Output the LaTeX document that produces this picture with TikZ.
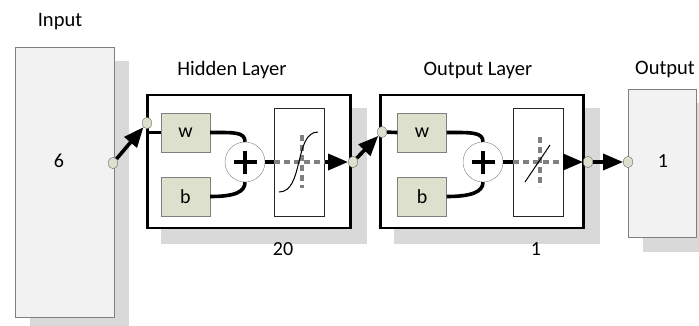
\documentclass[tikz,border=0pt]{standalone}
\usepackage{fontspec}
\setmainfont{Carlito}
\usepackage{tikz}
\usetikzlibrary{positioning,arrows.meta,shapes.geometric,backgrounds}
\definecolor{shade}{RGB}{217,217,217}
\definecolor{paper}{RGB}{242,242,242}
\definecolor{edge}{RGB}{128,128,128}
\definecolor{paramfill}{RGB}{221,224,205}

\begin{document}
\begin{tikzpicture}[x=1pt,y=-1pt,
    io/.style={draw=edge,fill=paper,inner sep=0pt},
    layer/.style={draw=black,line width=2.6pt,fill=white,minimum width=203pt,
                  minimum height=133pt,inner sep=0pt},
    backdrop/.style={fill=shade},
    param/.style={draw=edge,fill=paramfill,minimum width=49pt,minimum height=39pt,
                  inner sep=0pt,font=\fontsize{20}{20}\selectfont},
    sum/.style={circle,draw=edge,fill=white,minimum size=40pt,inner sep=0pt},
    xfer/.style={draw=black!85,line width=1pt,fill=white,minimum width=50pt,
                 minimum height=108pt,inner sep=0pt},
    port/.style={ellipse,draw=black!60,fill=paramfill,minimum width=9.5pt,
                 minimum height=11.5pt,inner sep=0pt},
    wire/.style={line width=3.6pt},
    arr/.style={line width=3.6pt,-{Triangle[length=20pt,width=16pt]}},
    zero/.style={edge,line width=3.6pt,dash pattern=on 6pt off 4pt},
    lbl/.style={font=\fontsize{20.5}{20.5}\selectfont},
    num/.style={font=\fontsize{20}{20}\selectfont}
]
\useasboundingbox (0,0) rectangle (699,325);

% boxes
\node[io,minimum width=99pt,minimum height=270pt] (in) at (64.5,182) {};
\node[layer] (hid) at (249,161.5) {};
\node[layer] (ol)  at (482,161.5) {};
\node[io,minimum width=68pt,minimum height=148pt] (out) at (662,163) {};

\begin{scope}[on background layer]
  \foreach \b in {in,hid,ol,out}
    \fill[backdrop] ([shift={(15,14.5)}]\b.south west) rectangle ([shift={(15,14.5)}]\b.north east);
\end{scope}

% texts
\node[lbl] (inlbl)  at (60,22)  {Input};
\node[lbl] (hidlbl) at (232,70) {Hidden Layer};
\node[lbl] (ollbl)  at (478,70) {Output Layer};
\node[lbl] (outlbl) at (665,69) {Output};
\node[num] (insize)  at (59,161)  {6};
\node[num] (hidsize) at (283,249) {20};
\node[num] (olsize)  at (536,249) {1};
\node[num] (outsize) at (663,161) {1};

% hidden layer
\node[param] (hw) at (185.5,132.5) {w};
\node[param] (hb) at (185.5,196.5) {b};
\node[sum]   (hsum) at (245,162) {};
\node[xfer]  (hx) at (299,162) {};

% output layer
\node[param] (ow) at (422,132.5) {w};
\node[param] (ob) at (422,196.5) {b};
\node[sum]   (osum) at (483,162) {};
\node[xfer]  (ox) at (538,162) {};

% ports
\node[port] (inport) at (113,163) {};
\node[port] (hin)  at (147,123) {};
\node[port] (hout) at (353,162) {};
\node[port] (oin)  at (382,132) {};
\node[port] (oout) at (588,162) {};
\node[port] (outport) at (628,162) {};

% plus signs
\foreach \s in {hsum,osum} {
  \draw[line width=4.5pt] ([xshift=-11.5pt]\s.center) -- ([xshift=11.5pt]\s.center);
  \draw[line width=4.5pt] ([yshift=-11.5pt]\s.center) -- ([yshift=11.5pt]\s.center);
}

% transfer functions
\draw[zero] (hx.west) -- (hx.east);
\draw[zero] ([shift={(3,-27)}]hx.center) -- ([shift={(3,26)}]hx.center);
\draw[line width=1pt] ([shift={(-20,30)}]hx.center) .. controls ([shift={(5,30)}]hx.center)
      and ([shift={(-5,-30)}]hx.center) .. ([shift={(19,-30)}]hx.center);
\draw[zero] (ox.west) -- (ox.east);
\draw[zero] ([shift={(2,-25)}]ox.center) -- ([shift={(2,25)}]ox.center);
\draw[line width=1pt] ([shift={(-13,20)}]ox.center) -- ([shift={(12,-17)}]ox.center);

% wires
\draw[wire] (hid.west |- hw.west) -- (hw.west);
\draw[wire] (hw.east) .. controls +(24,0) and +(0,-10) .. (hsum.north);
\draw[wire] (hb.east) .. controls +(24,0) and +(0,10) .. (hsum.south);
\draw[wire] (hsum.east) -- (hx.west);
\draw[wire] (oin) -- (ow.west);
\draw[wire] (ow.east) .. controls +(24,0) and +(0,-10) .. (osum.north);
\draw[wire] (ob.east) .. controls +(24,0) and +(0,10) .. (osum.south);
\draw[wire] (osum.east) -- (ox.west);

% arrows
\draw[arr] (inport) -- (hin);
\draw[arr] (hx.east) -- (hout);
\draw[arr] (hout) -- (oin);
\draw[arr] (ox.east) -- (oout);
\draw[arr] (oout) -- (outport);
\end{tikzpicture}
\end{document}
